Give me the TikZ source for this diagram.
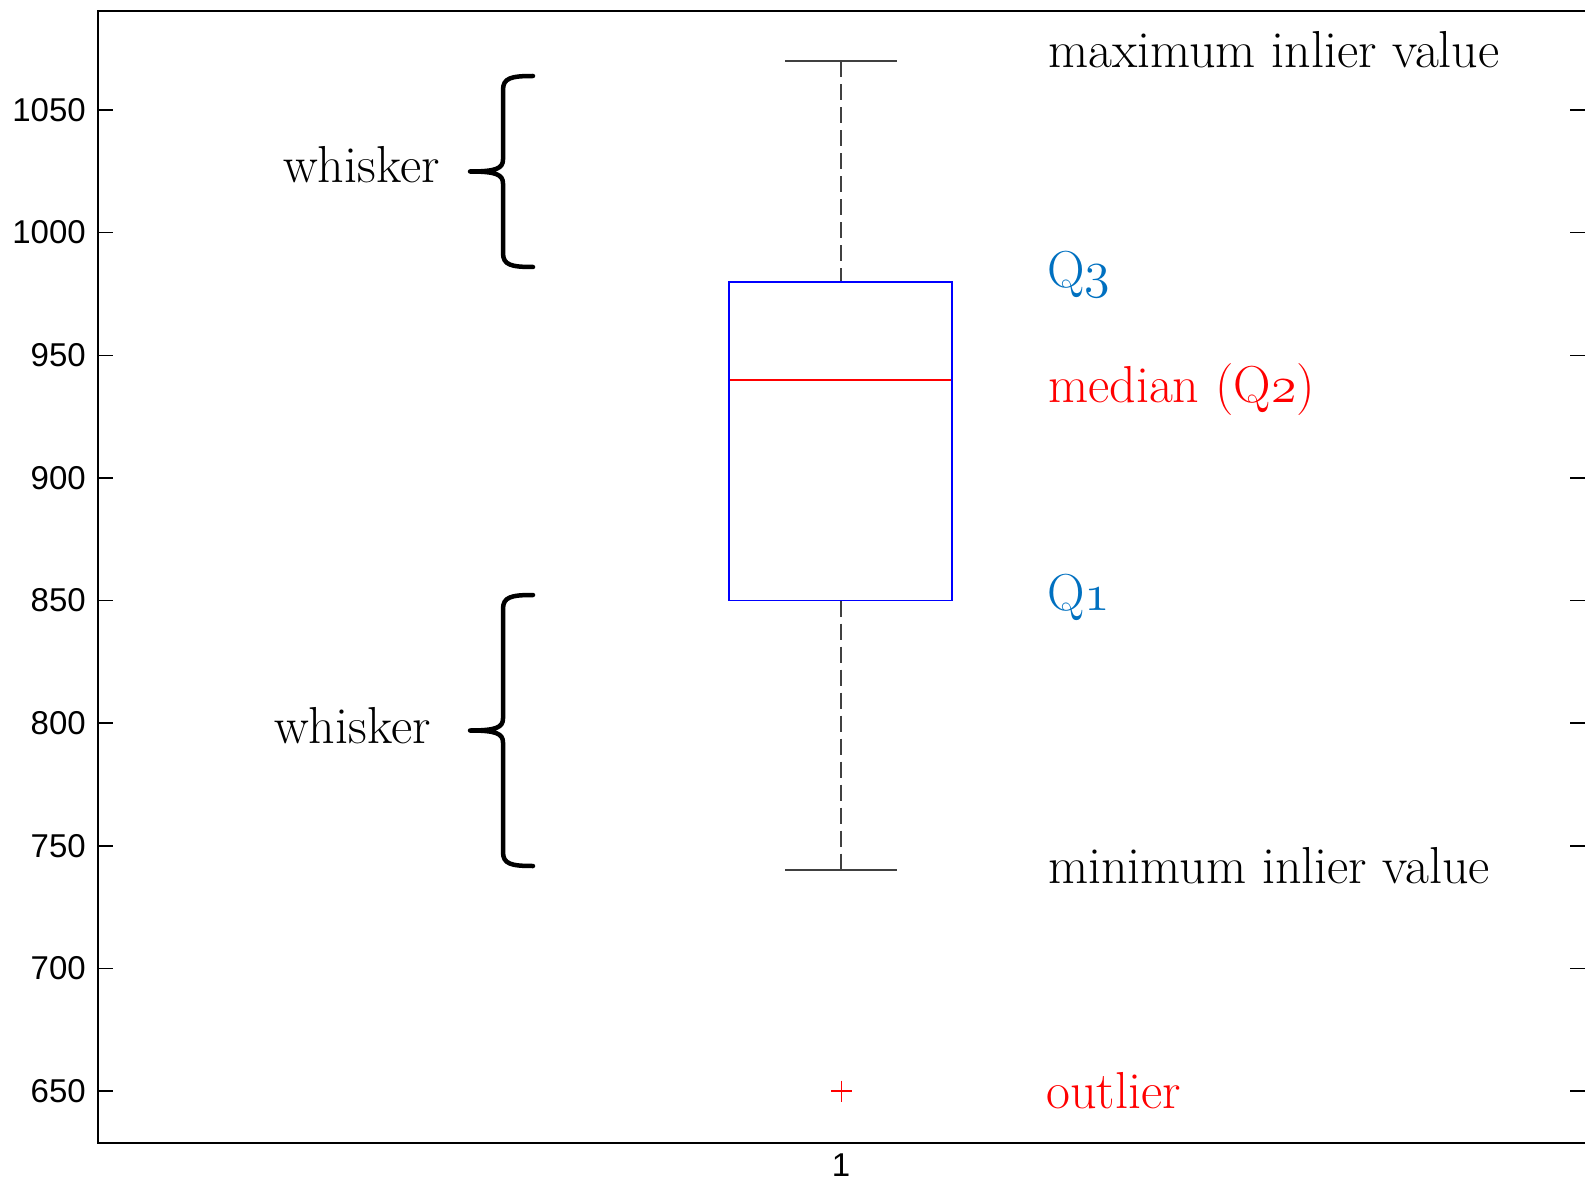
\RequirePackage{fix-cm}
\documentclass[tikz,border=0pt]{standalone}
\usepackage{fontspec}
\newfontfamily\ticksf{Liberation Sans}
\newcommand\osn[1]{{\fontencoding{OML}\fontfamily{cmm}\fontseries{m}\fontshape{it}\selectfont #1}}
\definecolor{qblue}{HTML}{0070C0}
\definecolor{wgray}{HTML}{404040}
\definecolor{boxblue}{RGB}{0,0,255}
\definecolor{medred}{RGB}{255,0,0}
\tikzset{
  lbl/.style={font=\fontsize{52}{56}\selectfont, anchor=base west, inner sep=0pt},
  ticklbl/.style={font=\ticksf\fontsize{33}{36}\selectfont, anchor=east, inner sep=0pt},
  frame/.style={line width=2pt, black},
  tickline/.style={line width=1.5pt, black},
  capline/.style={line width=2pt, wgray},
  whiskline/.style={line width=2pt, wgray, dash pattern=on 16pt off 7pt},
  bracestyle/.style={line width=4.5pt, black, line cap=round, line join=round}
}
\begin{document}
\begin{tikzpicture}[x=1pt,y=-1pt]
\useasboundingbox (0,0) rectangle (1585,1190);
% frame
\draw[frame] (97.5,11) rectangle (1592,1143);
% ticks and labels
\foreach \v in {650,700,...,1050}{
  \pgfmathsetmacro\yy{110+(1050-\v)*2.4525}
  \draw[tickline] (97.5,\yy) -- (112.5,\yy);
  \draw[tickline] (1570,\yy) -- (1592,\yy);
  \node[ticklbl] (t\v) at (86,\yy) {\v};
}
\node[font=\ticksf\fontsize{33}{36}\selectfont, inner sep=0pt] (xl) at (841,1165.5) {1};
% coordinates
\coordinate (capT) at (840.5,61.5);
\coordinate (boxT) at (840.5,281.7);
\coordinate (boxB) at (840.5,600.5);
\coordinate (capB) at (840.5,870.3);
% whiskers
\draw[whiskline] (capT) -- (boxT);
\draw[whiskline] (boxB) -- (capB);
\draw[capline] (785,61.5) -- (897,61.5);
\draw[capline] (785,870.3) -- (897,870.3);
% box
\draw[line width=1.8pt, boxblue] (729,281.7) rectangle (952,600.5);
\draw[line width=1.4pt, medred] (730,379.8) -- (951,379.8);
% outlier
\draw[line width=1.5pt, medred] (831,1091) -- (852,1091) (841.5,1080.5) -- (841.5,1101.5);
% braces
\foreach \t/\b in {76/267, 595/866}{
  \pgfmathsetmacro\m{(\t+\b)/2}
  \draw[bracestyle] (533,\t) .. controls (511,\t) and (503,{\t+2}) .. (503,{\t+14})
    -- (503,{\m-12}) .. controls (503,{\m-3}) and (496,\m) .. (470,\m)
    .. controls (496,\m) and (503,{\m+3}) .. (503,{\m+12})
    -- (503,{\b-14}) .. controls (503,{\b-2}) and (511,\b) .. (533,\b);
}
% labels
\node[lbl] (wu) at (283,183) {whisker};
\node[lbl] (wl) at (274,743) {whisker};
\node[lbl] (mx) at (1048,68) {maximum inlier value};
\node[lbl, text=qblue] (q3) at (1047,288) {Q\osn{3}};
\node[lbl, text=medred] (md) at (1048,402) {median (Q\osn{2})};
\node[lbl, text=qblue] (q1) at (1047,610) {Q\osn{1}};
\node[lbl] (mn) at (1048,883) {minimum inlier value};
\node[lbl, text=medred] (ol) at (1046,1108) {outlier};
\end{tikzpicture}
\end{document}
